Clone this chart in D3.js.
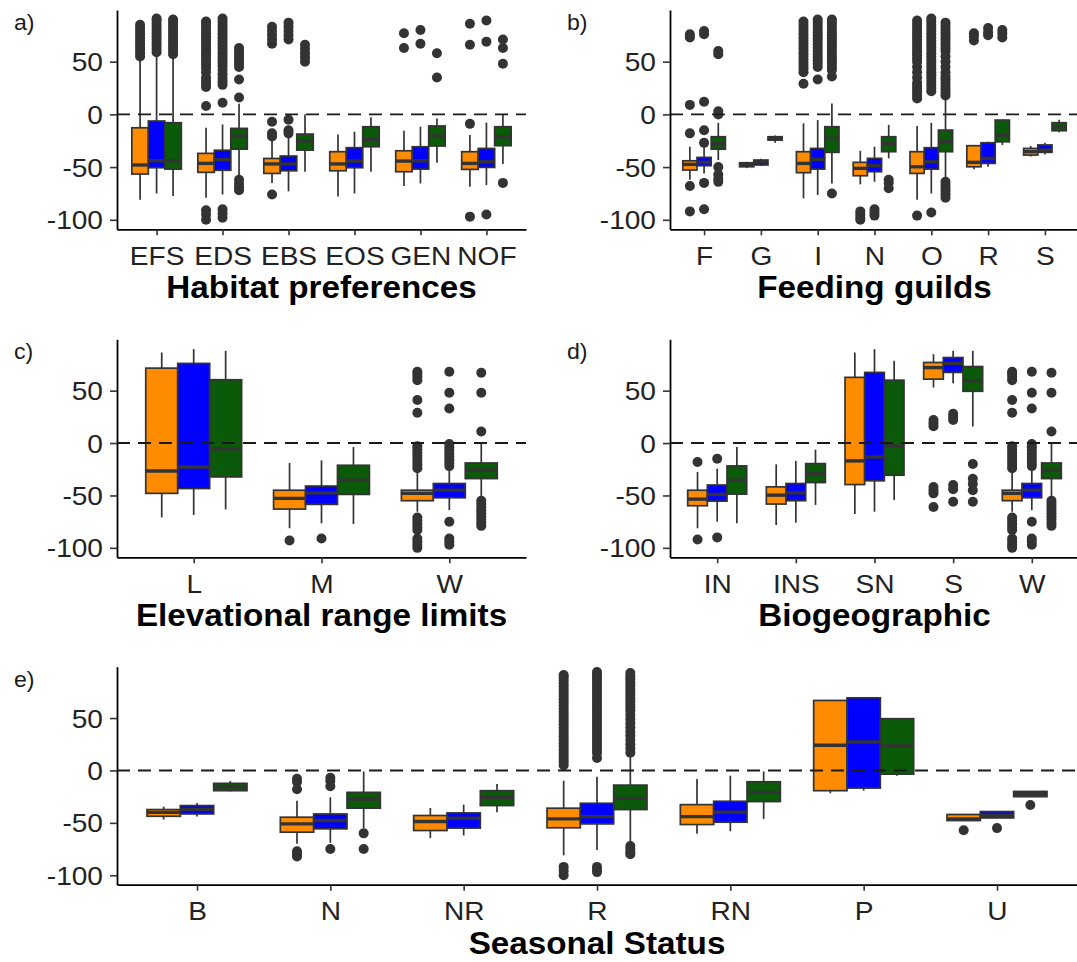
<!DOCTYPE html>
<html>
<head>
<meta charset="utf-8">
<script src="https://cdn.jsdelivr.net/npm/d3@7"></script>
<style>
  body { margin: 0; background: #ffffff; }
  svg { display: block; }
</style>
</head>
<body>
<svg id="chart" width="1077" height="962"></svg>
<script>
// Box statistics per category: [lower whisker, Q1, median, Q3, upper whisker]
// Three series per category (orange, blue, green); outliers listed per category.

// ---- a) Habitat preferences ----
const habitatCats = ["EFS", "EDS", "EBS", "EOS", "GEN", "NOF"];
const habitatA = [[-81, -56.6, -48, -12.7, 53], [-79, -55, -46.5, -37, -12.7], [-65, -56, -47, -41.8, -24], [-78, -53.5, -47, -35.4, -19], [-68, -54.4, -44.3, -34.5, -15.5], [-68.7, -52.2, -46.5, -35.4, -19.6]];
const habitatB = [[-75, -50.6, -44, -6.3, 57], [-76, -53, -43, -34, -9.5], [-73, -53.5, -47, -39.5, -21], [-75, -50.6, -44.3, -31.6, -16.5], [-65.5, -51.9, -44, -30.7, -11.7], [-67, -50.3, -45, -32.3, -7.9]];
const habitatC = [[-77.5, -51.9, -44, -7.9, 58], [-59, -33, -20.6, -13.3, 10], [-54.4, -33.9, -25, -18.7, 0], [-54.4, -30.7, -23.7, -11.7, -2.8], [-45.9, -30, -20.6, -11, -3.8], [-47, -29.7, -21.2, -11.7, -0.6]];
const habitatOutA = [
  [55, 58, 61, 64, 67, 70, 73, 76, 79, 82, 85],
  [8, 26, 29, 32, 35, 40, 44, 47, 50, 53, 56, 59, 62, 65, 68, 71, 74, 77, 80, 83, 86, 88, -91, -95, -100],
  [-7, -18, -21, -76, 67, 71, 75, 79, 83],
  [],
  [63, 77],
  [-9, -97, 66, 86]
];
const habitatOutB = [
  [59, 62, 65, 68, 71, 74, 77, 80, 83, 86, 89, 91],
  [11, 28, 31, 34, 38, 42, 46, 49, 52, 55, 58, 61, 64, 67, 70, 73, 76, 79, 82, 85, 88, 91, -90, -94, -98],
  [-5, -15, -18, 71, 75, 79, 83, 87],
  [],
  [67, 80],
  [-95, 69, 89]
];
const habitatOutC = [
  [57, 60, 63, 66, 69, 72, 75, 78, 81, 84, 87, 90],
  [16, 33, 45, 48, 51, 54, 57, 60, 63, -62, -66, -69, -72],
  [50, 54, 58, 62, 66],
  [],
  [35, 58],
  [-65, 48, 63, 71]
];

// ---- b) Feeding guilds ----
const feedingCats = ["F", "G", "I", "N", "O", "R", "S"];
const feedingA = [[-62, -52.8, -47.4, -44, -30.7], [-51, -49.7, -47.5, -45.9, -45], [-79.7, -55.3, -46.5, -35.4, -8.5], [-66.4, -58.2, -51.2, -45.5, -34.5], [-81, -56, -49.7, -35.4, -11], [-52, -49.7, -45.5, -29.7, -29], [-40, -38.6, -35.4, -32.3, -30]];
const feedingB = [[-56, -48.7, -45.5, -40.8, -31], [-49, -48, -45, -43.3, -42], [-76.5, -51.9, -42.7, -32.3, -5.4], [-63.9, -54.4, -48.7, -41.7, -30.7], [-75, -51.9, -45, -31.6, -8], [-49.7, -46.5, -41.7, -26.9, -26], [-38, -36, -33.8, -29, -27]];
const feedingC = [[-43.3, -33, -27.5, -21.2, -8], [-27, -24.4, -22.5, -21.2, -20], [-65.5, -36, -22.8, -11.7, 10.4], [-41.7, -35.4, -27.5, -21.2, -10], [-60.7, -35.4, -26, -14.9, 15], [-29, -26, -19.6, -5.4, -5], [-17, -15.5, -11.7, -7.9, -5]];
const feedingOutA = [
  [-92, -68, -18, 9, 73, 76],
  [],
  [29, 40, 43, 46, 49, 52, 55, 58, 61, 64, 67, 70, 73, 76, 79, 82, 85, 88],
  [-92, -95, -98, -100],
  [-96, 15, 18, 21, 24, 27, 30, 35, 40, 45, 50, 53, 56, 59, 62, 65, 68, 71, 74, 77, 80, 83, 86, 89],
  [70, 74, 77],
  []
];
const feedingOutB = [
  [-90, -65, -27, -15, 12, 76, 79],
  [],
  [33, 45, 48, 51, 54, 57, 60, 63, 66, 69, 72, 75, 78, 81, 84, 87, 90],
  [-90, -93, -96],
  [-93, 22, 25, 28, 31, 34, 37, 40, 43, 46, 49, 52, 55, 58, 61, 64, 67, 70, 73, 76, 79, 82, 85, 88, 91],
  [75, 78, 82],
  []
];
const feedingOutC = [
  [-50, -57, -61, -64, 0, 3, 57, 60],
  [],
  [-75, 36, 42, 45, 48, 51, 54, 57, 60, 63, 66, 69, 72, 75, 78, 81, 84, 87, 90],
  [-62, -65, -70],
  [-64, -67, -70, -73, -76, -79, 18, 21, 24, 27, 30, 33, 36, 40, 45, 50, 55, 60, 63, 66, 69, 72, 75, 78, 81, 84, 87],
  [73, 77, 80],
  []
];

// ---- c) Elevational range limits ----
const elevationCats = ["L", "M", "W"];
const elevationA = [[-70.9, -48, -26.6, 71.5, 86.4], [-81.3, -63, -52.8, -45, -19], [-65.5, -55, -48, -45, -26]];
const elevationB = [[-68.7, -43.4, -22.8, 76, 89.6], [-76.6, -58.5, -47.5, -41, -16.5], [-64, -52.2, -45, -38.6, -21]];
const elevationC = [[-63.3, -32.3, -5.4, 60.4, 88], [-77.2, -49, -35.4, -21.2, -3.8], [-52.8, -33.9, -26, -19, -0.6]];
const elevationOutA = [
  [],
  [-93],
  [29, 41, 60, 63, 66, 68, -3, -6, -9, -12, -15, -18, -21, -24, -71, -74, -77, -80, -83, -91, -94, -97, -100]
];
const elevationOutB = [
  [],
  [-91],
  [33, 48, 68, -1, -4, -7, -10, -13, -16, -19, -22, -75, -91, -94, -97]
];
const elevationOutC = [
  [],
  [],
  [11, 48, 67, -55, -58, -61, -64, -67, -70, -73, -76, -79]
];

// ---- d) Biogeographic ----
const biogeoCats = ["IN", "INS", "SN", "S", "W"];
const biogeoA = [[-81.3, -59.8, -53.5, -45, -27.5], [-78.2, -58.2, -49.7, -41.8, -20.3], [-67.7, -39.6, -17, 62.7, 86.4], [53, 61, 72, 76.9, 84.8], [-65.5, -55, -48, -45, -26]];
const biogeoB = [[-75, -55.4, -49, -40, -24.4], [-76, -55, -47.5, -38.6, -17], [-65.5, -36, -13.3, 67.4, 89.6], [57, 67.4, 76, 81.6, 88], [-64, -52.2, -45, -38.6, -21]];
const biogeoC = [[-76.6, -48.7, -35.4, -21.8, -3.8], [-59, -37.7, -29, -19.6, -6.3], [-54.4, -30.7, -2.8, 60, 78.5], [15.8, 49.4, 59.5, 73, 88], [-52.8, -33.9, -26, -19, -0.6]];
const biogeoOutA = [
  [-18, -92],
  [],
  [],
  [16, 19, 22, -42, -45, -48, -61],
  [29, 41, 60, 63, 66, 68, -3, -6, -9, -12, -15, -18, -21, -24, -71, -74, -77, -80, -83, -91, -94, -97, -100]
];
const biogeoOutB = [
  [-15, -90],
  [],
  [],
  [22, 25, 28, -40, -44, -56],
  [33, 48, 68, -1, -4, -7, -10, -13, -16, -19, -22, -75, -91, -94, -97]
];
const biogeoOutC = [
  [],
  [],
  [],
  [-20, -34, -39, -45, -56],
  [11, 48, 67, -55, -58, -61, -64, -67, -70, -73, -76, -79]
];

// ---- e) Seasonal Status ----
const seasonalCats = ["B", "N", "NR", "R", "RN", "P", "U"];
const seasonalA = [[-46.8, -43.7, -40, -37.3, -34.5], [-70, -58.9, -51, -44.6, -28.8], [-64.6, -57.3, -48.7, -43, -35.8], [-81, -54.7, -46.2, -36, -9.8], [-60.4, -51.6, -44, -32.6, -8.2], [-21.8, -19.3, 24, 66.8, 66.8], [-47.8, -47.8, -46.2, -42, -42]];
const seasonalB = [[-44, -41.5, -37.3, -33.5, -31], [-69, -55.7, -47.8, -41.5, -25.6], [-62, -55, -45.6, -40.5, -32.6], [-76, -51, -44, -31.3, -6], [-58, -49.4, -39.9, -29.4, -5], [-19.3, -16.8, 27.2, 69.3, 69.3], [-45.3, -45.3, -43, -39.2, -39.2]];
const seasonalC = [[-20, -19.3, -15.5, -12.3, -10], [-55, -36, -27.2, -20.9, -1], [-39.9, -33.5, -25.6, -19.3, -13], [-68.4, -37.3, -26.6, -14, 15.2], [-46.2, -29.7, -20.9, -10.8, -1], [-5, -3.5, 23.4, 49.4, 49.4], [-25, -25, -21.8, -20, -20]];
const seasonalOutA = [
  [],
  [-8, -11, -18, -77, -80, -82],
  [],
  [5, 8, 11, 14, 17, 20, 23, 26, 29, 32, 35, 38, 41, 44, 47, 50, 53, 56, 59, 62, 65, 68, 71, 74, 77, 80, 83, 86, 89, 91, -92, -96, -100],
  [],
  [],
  [-57]
];
const seasonalOutB = [
  [],
  [-7, -10, -15, -75],
  [],
  [12, 17, 20, 23, 26, 29, 32, 35, 38, 41, 44, 47, 50, 53, 56, 59, 62, 65, 68, 71, 74, 77, 80, 83, 86, 89, 92, 94, -92, -95, -97],
  [],
  [],
  [-55]
];
const seasonalOutC = [
  [],
  [-60, -75],
  [],
  [17, 21, 25, 29, 33, 37, 41, 45, 49, 53, 57, 60, 63, 66, 69, 72, 75, 78, 81, 84, 87, 90, 93, -72, -75, -78, -80],
  [],
  [],
  [-33]
];

// Shared y axis
const yDomain = [-109, 99];
const yTicks = [-100, -50, 0, 50];

// Styling
const fills = ["#FF8C00", "#0000FF", "#0A5A0A"];
const ink = "#333333";
const fontFamily = "'Liberation Sans', Arial, Helvetica, sans-serif";
const tickFont = 26, tickStretch = 1.08;
const titleFont = 30.5, titleStretch = 1.09;
const tagFont = 22, tagStretch = 1.05;

const panels = [
  { tag: "a)", title: "Habitat preferences", cats: habitatCats, stats: [habitatA, habitatB, habitatC], outs: [habitatOutA, habitatOutB, habitatOutC], x0: 117, x1: 526, y0: 10, y1: 229.3 },
  { tag: "b)", title: "Feeding guilds", cats: feedingCats, stats: [feedingA, feedingB, feedingC], outs: [feedingOutA, feedingOutB, feedingOutC], x0: 670, x1: 1079, y0: 10, y1: 229.3 },
  { tag: "c)", title: "Elevational range limits", cats: elevationCats, stats: [elevationA, elevationB, elevationC], outs: [elevationOutA, elevationOutB, elevationOutC], x0: 117, x1: 526, y0: 339.3, y1: 557.3 },
  { tag: "d)", title: "Biogeographic", cats: biogeoCats, stats: [biogeoA, biogeoB, biogeoC], outs: [biogeoOutA, biogeoOutB, biogeoOutC], x0: 670, x1: 1079, y0: 339.3, y1: 557.3 },
  { tag: "e)", title: "Seasonal Status", cats: seasonalCats, stats: [seasonalA, seasonalB, seasonalC], outs: [seasonalOutA, seasonalOutB, seasonalOutC], x0: 117, x1: 1077, y0: 666.7, y1: 884.7 }
];

const svg = d3.select("#chart");

function stretchedText(parent, x, y, txt, size, weight, stretch, anchor, color) {
  return parent.append("g")
    .attr("transform", `translate(${x},${y})`)
    .append("text")
    .attr("transform", `scale(${stretch},1)`)
    .attr("text-anchor", anchor)
    .attr("font-family", fontFamily)
    .attr("font-size", size)
    .attr("font-weight", weight)
    .attr("fill", color)
    .text(txt);
}

function drawPanel(p) {
  const g = svg.append("g");
  const x = d3.scalePoint().domain(p.cats).range([p.x0, p.x1]).padding(0.6);
  const y = d3.scaleLinear().domain(yDomain).range([p.y1, p.y0]);
  const bw = x.step() * 0.25;

  p.cats.forEach((cat, i) => {
    p.stats.forEach((series, j) => {
      const cx = x(cat) + (j - 1) * bw;
      const [lo, q1, md, q3, hi] = series[i];
      const bg = g.append("g");

      // outliers
      bg.selectAll("circle")
        .data(p.outs[j][i])
        .join("circle")
        .attr("cx", cx)
        .attr("cy", d => y(d))
        .attr("r", 5)
        .attr("fill", ink);

      // whiskers
      bg.append("line")
        .attr("x1", cx).attr("x2", cx)
        .attr("y1", y(hi)).attr("y2", y(q3))
        .attr("stroke", ink).attr("stroke-width", 1.7);
      bg.append("line")
        .attr("x1", cx).attr("x2", cx)
        .attr("y1", y(q1)).attr("y2", y(lo))
        .attr("stroke", ink).attr("stroke-width", 1.7);

      // box
      bg.append("rect")
        .attr("x", cx - bw / 2)
        .attr("y", y(q3))
        .attr("width", bw)
        .attr("height", Math.max(0, y(q1) - y(q3)))
        .attr("fill", fills[j])
        .attr("stroke", ink)
        .attr("stroke-width", 1.7);

      // median
      bg.append("line")
        .attr("x1", cx - bw / 2).attr("x2", cx + bw / 2)
        .attr("y1", y(md)).attr("y2", y(md))
        .attr("stroke", ink).attr("stroke-width", 3.4);
    });
  });

  // reference line at zero
  g.append("line")
    .attr("x1", p.x0).attr("x2", p.x1)
    .attr("y1", y(0)).attr("y2", y(0))
    .attr("stroke", "#1a1a1a")
    .attr("stroke-width", 1.9)
    .attr("stroke-dasharray", "13,8");

  // y axis
  const yAxis = g.append("g")
    .attr("transform", `translate(${p.x0},0)`)
    .call(d3.axisLeft(y).tickValues(yTicks).tickSize(7).tickSizeOuter(0).tickPadding(6).tickFormat(d => String(d)));
  // x axis
  const xAxis = g.append("g")
    .attr("transform", `translate(0,${p.y1})`)
    .call(d3.axisBottom(x).tickSize(6).tickSizeOuter(0).tickPadding(11));

  [yAxis, xAxis].forEach(ax => {
    ax.select(".domain").attr("stroke", "#000").attr("stroke-width", 1.8);
    ax.selectAll(".tick line").attr("stroke", ink).attr("stroke-width", 1.6);
    ax.selectAll(".tick text")
      .attr("font-family", fontFamily)
      .attr("font-size", tickFont)
      .attr("fill", "#222222");
  });
  yAxis.selectAll(".tick text")
    .attr("transform", `scale(${tickStretch},1)`)
    .attr("dy", "0.35em");
  xAxis.selectAll(".tick text")
    .attr("transform", `scale(${tickStretch},1)`);

  // axis title
  stretchedText(g, (p.x0 + p.x1) / 2, p.y1 + 69, p.title, titleFont, "bold", titleStretch, "middle", "#000");

  // panel tag
  stretchedText(g, p.x0 - 103, p.y0 + 20, p.tag, tagFont, "normal", tagStretch, "start", "#1a1a1a");
}

panels.forEach(drawPanel);
</script>
</body>
</html>
